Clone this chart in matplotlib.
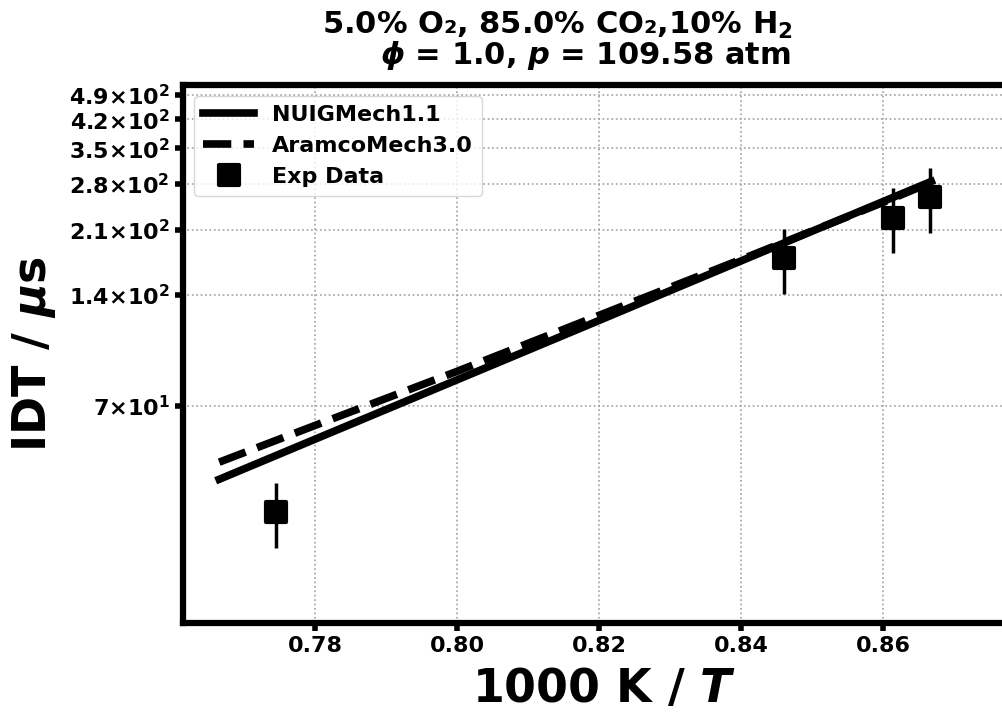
import matplotlib
matplotlib.use("Agg")
import matplotlib.pyplot as plt
from matplotlib.markers import MarkerStyle
from matplotlib.ticker import FixedLocator, FuncFormatter, NullLocator
import numpy as np

plt.rcParams['font.family'] = ['DejaVu Sans']
plt.rcParams['font.weight'] = 'bold'
plt.rcParams['mathtext.fontset'] = 'custom'
plt.rcParams['mathtext.rm'] = 'DejaVu Sans:bold'
plt.rcParams['mathtext.bf'] = 'DejaVu Sans:bold'
plt.rcParams['mathtext.it'] = 'DejaVu Sans:bold:italic'
plt.rcParams['mathtext.sf'] = 'DejaVu Sans:bold'

# Data
sim_x = [0.7665, 0.78, 0.80, 0.82, 0.84, 0.86, 0.8668]
nuig_idt = [44.2, 56.8, 82.3, 119.3, 173.1, 250.9, 284.6]
aramco_idt = [49.2, 61.9, 86.8, 123.2, 174.7, 249.5, 283.0]
exp_x = [0.7745, 0.8460, 0.8614, 0.8666]
exp_idt = [36.0, 176.0, 227.0, 258.0]
exp_err_frac = 0.2
y_ticks = [70, 140, 210, 280, 350, 420, 490]
y_tick_labels = [r'$7{\times}10^{1}$', r'$1.4{\times}10^{2}$', r'$2.1{\times}10^{2}$',
                 r'$2.8{\times}10^{2}$', r'$3.5{\times}10^{2}$', r'$4.2{\times}10^{2}$',
                 r'$4.9{\times}10^{2}$']
x_ticks = [0.78, 0.80, 0.82, 0.84, 0.86]

fig = plt.figure(figsize=(10.02, 7.12), dpi=100)
ax = fig.add_axes([183/1002, 89/712, (1025-183)/1002, (623-85)/712])

ax.plot(sim_x, nuig_idt, '-', color='black', lw=5.5, label='NUIGMech1.1')
ax.plot(sim_x, aramco_idt, '--', color='black', lw=5.5, label='AramcoMech3.0')
err = [e * exp_err_frac for e in exp_idt]
ax.errorbar(exp_x, exp_idt, yerr=err, fmt='none', ecolor='black', elinewidth=2.5, capsize=0)
ax.plot(exp_x, exp_idt, linestyle='none', marker=MarkerStyle('s', joinstyle='round'),
        markersize=14, markeredgewidth=3, color='black', label='Exp Data')

ax.set_yscale('log')
ax.set_xlim(0.7614, 0.8800)
ax.set_ylim(18.0, 520.0)
ax.yaxis.set_major_locator(FixedLocator(y_ticks))
ax.yaxis.set_major_formatter(FuncFormatter(lambda v, p: y_tick_labels[y_ticks.index(int(round(v)))] if int(round(v)) in y_ticks else ''))
ax.yaxis.set_minor_locator(NullLocator())
ax.set_xticks(x_ticks)
ax.set_xticklabels([f'{v:.2f}' for v in x_ticks])

ax.tick_params(axis='both', labelsize=16, width=4, length=6)
for lab in ax.get_xticklabels() + ax.get_yticklabels():
    lab.set_fontweight('bold')
for s in ax.spines.values():
    s.set_linewidth(4.5)

ax.grid(True, which='major', linestyle=':', color='#a0a0a0', lw=1.2)

ax.set_xlabel(r'1000 K / $T$', fontsize=33, fontweight='bold', labelpad=8)
ax.set_ylabel(r'IDT / $\mu$s', fontsize=33, fontweight='bold', labelpad=8)

leg = ax.legend(loc='upper left', fontsize=16, frameon=True, handlelength=2.3)
for t in leg.get_texts():
    t.set_fontweight('bold')

fig.text(557/1002, 1 - 34/712, r'5.0% O₂, 85.0% CO₂,10% H$_2$', ha='center', va='baseline',
         fontsize=22, fontweight='bold')
fig.text(585/1002, 1 - 64/712, r'$\phi$ = 1.0, $p$ = 109.58 atm', ha='center', va='baseline',
         fontsize=22, fontweight='bold')

fig.savefig('out.png', dpi=100)
